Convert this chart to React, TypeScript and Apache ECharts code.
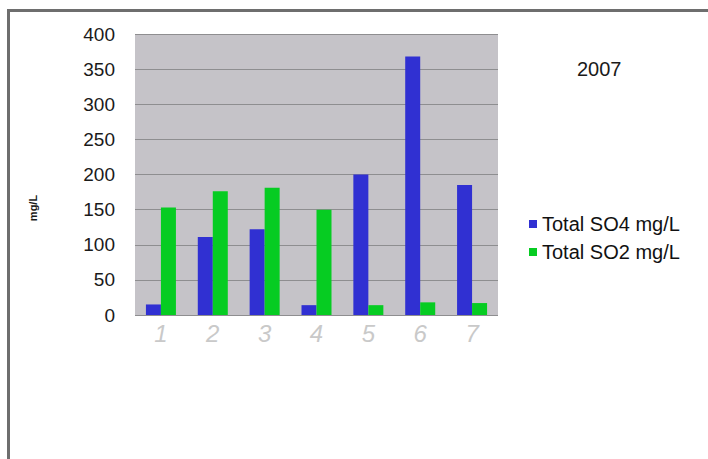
import React, { useEffect, useRef } from "react";
import * as echarts from "echarts";

const categories = ["1", "2", "3", "4", "5", "6", "7"];
const so4Values = [15, 111, 122, 14, 200, 368, 185];
const so2Values = [153, 176, 181, 150, 14, 18, 17];
const yTicks = [0, 50, 100, 150, 200, 250, 300, 350, 400];
const seriesNames = ["Total SO4 mg/L", "Total SO2 mg/L"];
const yearLabel = "2007";
const yAxisTitle = "mg/L";

export default function App() {
  const ref = useRef<HTMLDivElement>(null);

  useEffect(() => {
    if (!ref.current) return;
    const chart = echarts.init(ref.current, null, { renderer: "svg" });
    chart.setOption({
      animation: false,
      backgroundColor: "#ffffff",
      textStyle: { fontFamily: "Liberation Sans, Arial, sans-serif" },
      grid: {
        left: 135,
        right: 210,
        top: 34,
        bottom: 144,
        show: true,
        backgroundColor: "#c5c3c8",
        borderWidth: 0,
      },
      legend: {
        orient: "vertical",
        left: 524,
        top: 209,
        itemWidth: 8,
        itemHeight: 8,
        itemGap: 8,
        icon: "rect",
        textStyle: { fontSize: 20, color: "#111111" },
        data: seriesNames,
      },
      xAxis: {
        type: "category",
        data: categories,
        axisLine: { show: false },
        axisTick: { show: false },
        axisLabel: {
          fontSize: 24,
          fontStyle: "italic",
          color: "#c9c9c9",
          margin: 6,
        },
      },
      yAxis: {
        type: "value",
        min: yTicks[0],
        max: yTicks[yTicks.length - 1],
        interval: 50,
        axisLine: { show: false },
        axisTick: { show: false },
        axisLabel: { fontSize: 19, color: "#1a1a1a", margin: 20 },
        splitLine: {
          show: true,
          lineStyle: { color: "#8e8e90", width: 1.2 },
        },
      },
      graphic: [
        {
          type: "rect",
          shape: { x: 8.5, y: 10.5, width: 760, height: 500 },
          style: { fill: "none", stroke: "#6e6e6e", lineWidth: 3 },
          silent: true,
        },
        {
          type: "text",
          left: 577,
          top: 59,
          style: { text: yearLabel, fill: "#1a1a1a", font: "20px Liberation Sans, Arial, sans-serif" },
        },
        {
          type: "text",
          x: 33,
          y: 208,
          rotation: Math.PI / 2,
          style: {
            text: yAxisTitle,
            fill: "#1a1a1a",
            font: "bold 11px Liberation Sans, Arial, sans-serif",
            align: "center",
            verticalAlign: "middle",
          },
        },
      ],
      series: [
        {
          name: seriesNames[0],
          type: "bar",
          data: so4Values,
          barWidth: 15,
          barGap: "0%",
          itemStyle: { color: "#3030d2" },
        },
        {
          name: seriesNames[1],
          type: "bar",
          data: so2Values,
          barWidth: 15,
          barGap: "0%",
          itemStyle: { color: "#06cc22" },
        },
      ],
    });
    return () => chart.dispose();
  }, []);

  return (
    <div
      ref={ref}
      style={{ position: "absolute", left: 0, top: 0, width: 708, height: 459 }}
    />
  );
}
